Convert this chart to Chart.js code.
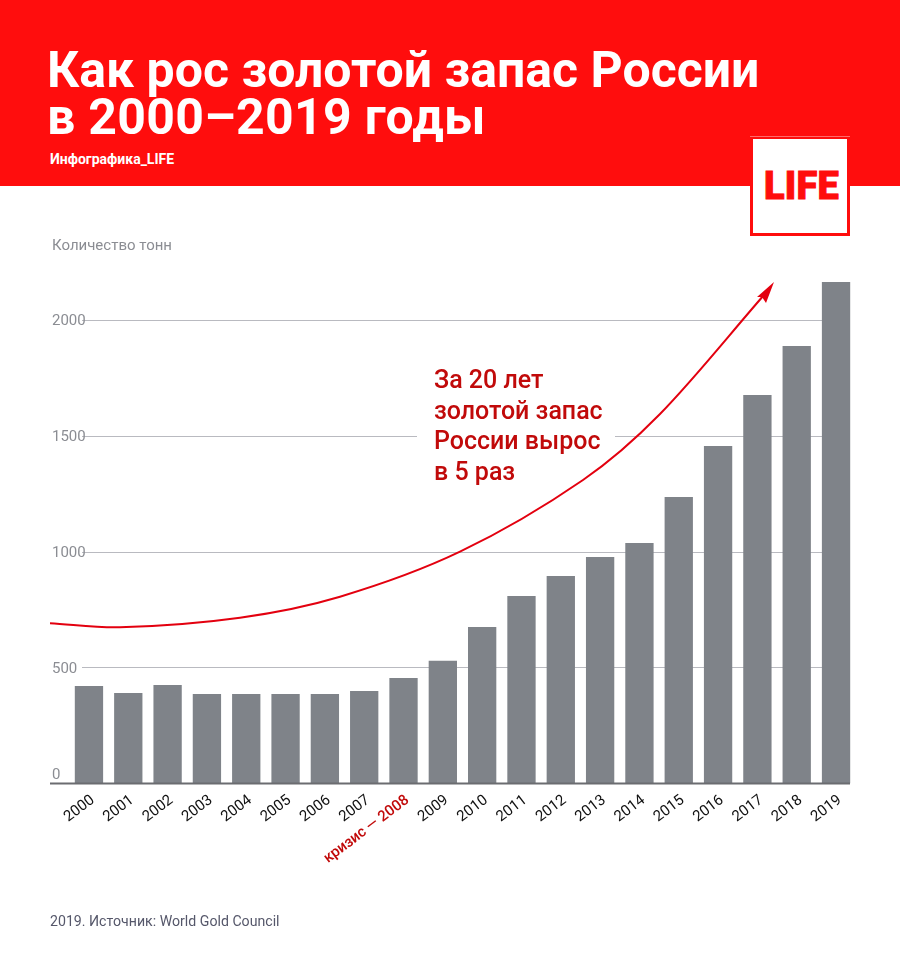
<!DOCTYPE html>
<html lang="ru">
<head>
<meta charset="utf-8">
<title>Как рос золотой запас России</title>
<script src="https://cdn.jsdelivr.net/npm/chart.js@4"></script>
<style>
  html, body { margin: 0; padding: 0; background: #fff; }
  body { position: relative; width: 900px; height: 976px; overflow: hidden; font-family: Roboto, sans-serif; }
  #chart { position: absolute; left: 0; top: 0; }
  #header { position: absolute; left: 0; top: 0; width: 900px; height: 186px; background: #ff0d0d; }
  #title { position: absolute; left: 47px; top: 47px; color: #fff; font-size: 50px; font-weight: 700; line-height: 47px; white-space: nowrap; }
  #title span { letter-spacing: 0.3px; }
  #credit { position: absolute; left: 50px; top: 151px; color: #fff; font-size: 14px; font-weight: 700; }
  #logo { position: absolute; left: 750px; top: 139px; width: 94px; height: 94px; background: #fff; border: 3px solid #ff0d0d; border-top: 0; color: #ff0d0d; }
  #logoLine { position: absolute; left: 750px; top: 136px; width: 100px; height: 1px; background: #ff6a6a; }
  #logo span { position: absolute; left: 11px; top: 24px; font-size: 38px; line-height: 46px; font-weight: 900; letter-spacing: 0.2px; -webkit-text-stroke: 0.9px #ff0d0d; }
  #unit { position: absolute; left: 52px; top: 236px; color: #8b8d93; font-size: 15px; }
  #note { position: absolute; left: 434px; top: 365px; color: #c10a0a; font-size: 25px; font-weight: 500; line-height: 30.5px; white-space: nowrap; }
  #source { position: absolute; left: 50px; top: 913px; color: #55576a; font-size: 14.15px; }
</style>
</head>
<body>
<canvas id="chart" width="900" height="976"></canvas>
<div id="header">
  <div id="title">Как рос золотой запас России<br><span>в 2000–2019 годы</span></div>
  <div id="credit">Инфографика_LIFE</div>
</div>
<div id="logoLine"></div>
<div id="logo"><span>LIFE</span></div>
<div id="unit">Количество тонн</div>
<div id="note">За 20 лет<br>золотой запас<br>России вырос<br>в 5 раз</div>
<div id="source">2019. Источник: World Gold Council</div>
<script>
const years = ["2000", "2001", "2002", "2003", "2004", "2005", "2006", "2007", "2008", "2009",
  "2010", "2011", "2012", "2013", "2014", "2015", "2016", "2017", "2018", "2019"];
const tonnes = [421, 391, 425, 387, 387, 387, 387, 400, 456, 530,
  676, 810, 896, 978, 1039, 1238, 1458, 1678, 1890, 2166];
const yTicks = [0, 500, 1000, 1500, 2000];
const crisisYear = "2008";
const crisisLabel = "кризис — 2008";
// hand-drawn arrow, page pixels
const arrowKnots = [[50, 623.3], [120, 627.3], [240, 617.7], [340, 596.7], [460, 551.7],
  [583, 480], [660, 414], [764, 295]];

// slope at a knot, from its neighbours
function knotSlope(i) {
  const a = arrowKnots[Math.max(i - 1, 0)];
  const b = arrowKnots[Math.min(i + 1, arrowKnots.length - 1)];
  return (b[1] - a[1]) / (b[0] - a[0]);
}

// gridlines, y labels and the axis line are not the stock ones here
const backdrop = {
  id: "backdrop",
  beforeDatasetsDraw(chart) {
    const { ctx, scales } = chart;
    ctx.save();
    ctx.lineWidth = 1;
    ctx.strokeStyle = "#b9bac0";
    yTicks.forEach(function(t) {
      if (t === 0) return;
      const y = Math.floor(scales.y.getPixelForValue(t)) + 0.5;
      ctx.beginPath();
      ctx.moveTo(82, y);
      ctx.lineTo(850, y);
      ctx.stroke();
    });
    // gap behind the note
    ctx.fillStyle = "#fff";
    ctx.fillRect(417, scales.y.getPixelForValue(1500) - 3, 198, 6);
    ctx.fillStyle = "#8b8d93";
    ctx.font = "15px Roboto";
    ctx.textBaseline = "middle";
    yTicks.forEach(function(t) {
      const y = scales.y.getPixelForValue(t);
      ctx.fillText(String(t), 52, t === 0 ? y - 8 : y + 1);
    });
    ctx.restore();
  },
  afterDatasetsDraw(chart) {
    const { ctx, scales } = chart;
    const y0 = scales.y.getPixelForValue(0);
    ctx.save();
    ctx.fillStyle = "#6b6c70";
    ctx.fillRect(50, y0 - 1, 800, 2);

    ctx.strokeStyle = "#e3000f";
    ctx.lineWidth = 2;
    ctx.beginPath();
    ctx.moveTo(arrowKnots[0][0], arrowKnots[0][1]);
    for (let i = 0; i < arrowKnots.length - 1; i++) {
      const p1 = arrowKnots[i];
      const p2 = arrowKnots[i + 1];
      const d = (p2[0] - p1[0]) / 3;
      ctx.bezierCurveTo(p1[0] + d, p1[1] + knotSlope(i) * d,
        p2[0] - d, p2[1] - knotSlope(i + 1) * d, p2[0], p2[1]);
    }
    ctx.stroke();
    // arrow head
    ctx.fillStyle = "#e3000f";
    ctx.beginPath();
    ctx.moveTo(774, 282);
    ctx.lineTo(757, 297);
    ctx.lineTo(762, 297);
    ctx.lineTo(766, 303);
    ctx.closePath();
    ctx.fill();
    ctx.restore();
  }
};

const goldChart = new Chart(document.getElementById("chart"), {
  type: "bar",
  data: {
    labels: years,
    datasets: [{
      data: tonnes,
      backgroundColor: "#7f8389",
      barPercentage: 0.72,
      categoryPercentage: 1
    }]
  },
  options: {
    responsive: false,
    animation: false,
    layout: { padding: { left: 69.3, right: 44.3, top: 274.2, bottom: 72.5 } },
    plugins: { legend: { display: false }, tooltip: { enabled: false } },
    scales: {
      x: {
        grid: { display: false },
        border: { display: false },
        afterFit: function(scale) { scale.height = 120; },
        ticks: {
          autoSkip: false,
          minRotation: 37,
          maxRotation: 37,
          padding: 0,
          labelOffset: 4,
          font: function(c) { return { family: "Roboto", size: 15, weight: years[c.index] === crisisYear ? "500" : "400" }; },
          color: function(c) { return years[c.index] === crisisYear ? "#c10a0a" : "#111"; },
          callback: function(v, i) { return years[i] === crisisYear ? crisisLabel : years[i]; }
        }
      },
      y: { display: false, min: 0, max: 2200 }
    }
  },
  plugins: [backdrop]
});
</script>
</body>
</html>
